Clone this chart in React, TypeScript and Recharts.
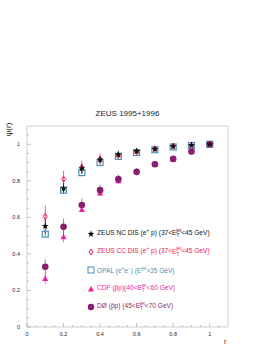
import React from 'react';
import {
  ScatterChart,
  Scatter,
  XAxis,
  YAxis,
  ErrorBar,
  ReferenceArea,
} from 'recharts';

const rValues = [0.1, 0.2, 0.3, 0.4, 0.5, 0.6, 0.7, 0.8, 0.9, 1.0];

const ncPsi = [0.552, 0.758, 0.867, 0.916, 0.944, 0.962, 0.974, 0.989, 0.995, 1.0];
const ncErr = [0.04, 0.03, 0.025, 0.02, 0.015, 0.012, 0.01, 0.008, 0.005, 0.002];
const ccPsi = [0.605, 0.809, 0.875, 0.918, 0.94, 0.96, 0.975, 0.99, 0.992, 1.0];
const ccErr = [0.06, 0.045, 0.035, 0.03, 0.025, 0.018, 0.012, 0.01, 0.008, 0.002];
const opalPsi = [0.508, 0.749, 0.845, 0.9, 0.934, 0.955, 0.97, 0.985, 0.993, 1.0];
const opalErr = [0.012, 0.01, 0.008, 0.007, 0.006, 0.005, 0.004, 0.003, 0.002, 0.001];
const cdfPsi = [0.266, 0.494, 0.643, 0.734, 0.8, 0.85, 0.89, 0.92, 0.96, 1.0];
const cdfErr = [0.03, 0.03, 0.015, 0.015, 0.012, 0.01, 0.008, 0.006, 0.005, 0.002];
const d0Psi = [0.33, 0.548, 0.668, 0.749, 0.809, 0.849, 0.891, 0.92, 0.96, 1.0];
const d0Err = [0.04, 0.045, 0.035, 0.03, 0.025, 0.02, 0.015, 0.012, 0.01, 0.002];

const majorTicks = [0, 0.2, 0.4, 0.6, 0.8, 1];
const minorTicks = [0.05, 0.1, 0.15, 0.25, 0.3, 0.35, 0.45, 0.5, 0.55, 0.65, 0.7, 0.75, 0.85, 0.9, 0.95, 1.05];
const allTicks = [...majorTicks, ...minorTicks].sort((a, b) => a - b);

const toPoints = (psi: number[], err: number[]) =>
  rValues.map((r, i) => ({ r, psi: psi[i], err: err[i] }));

const C_NC = '#111111';
const C_CC = '#e8194b';
const C_OPAL = '#4f8fb5';
const C_CDF = '#f21ca0';
const C_D0 = '#8a1f6e';
const FONT = '"Liberation Sans", Arial, sans-serif';

function starPath(cx: number, cy: number, R: number) {
  const pts: string[] = [];
  for (let k = 0; k < 10; k++) {
    const rad = k % 2 === 0 ? R : R * 0.42;
    const a = -Math.PI / 2 + (k * Math.PI) / 5;
    pts.push(`${cx + rad * Math.cos(a)},${cy + rad * Math.sin(a)}`);
  }
  return `M${pts.join('L')}Z`;
}

const Star = ({ cx, cy }: any) => <path d={starPath(cx, cy, 3.6)} fill={C_NC} />;
const Diamond = ({ cx, cy }: any) => (
  <path d={`M${cx},${cy - 3}L${cx + 2},${cy}L${cx},${cy + 3}L${cx - 2},${cy}Z`} fill="none" stroke={C_CC} strokeWidth={1} />
);
const Square = ({ cx, cy }: any) => (
  <rect x={cx - 3} y={cy - 3} width={6} height={6} fill="none" stroke={C_OPAL} strokeWidth={1.2} />
);
const Triangle = ({ cx, cy }: any) => (
  <path d={`M${cx},${cy - 3}L${cx + 3},${cy + 2.5}L${cx - 3},${cy + 2.5}Z`} fill={C_CDF} />
);
const Dot = ({ cx, cy }: any) => <circle cx={cx} cy={cy} r={3.3} fill={C_D0} />;

const XTick = ({ x, y, payload }: any) => {
  const major = majorTicks.includes(payload.value);
  return (
    <g>
      <line x1={x} x2={x} y1={y} y2={y - (major ? 4 : 2)} stroke="#999" strokeWidth={0.6} />
      {major && (
        <text x={x} y={y + 9} textAnchor="middle" fontSize={5.5} fill="#222" fontFamily={FONT}>
          {payload.value}
        </text>
      )}
    </g>
  );
};

const YTick = ({ x, y, payload }: any) => {
  const major = majorTicks.includes(payload.value);
  return (
    <g>
      <line x1={x} x2={x + (major ? 4 : 2)} y1={y} y2={y} stroke="#999" strokeWidth={0.6} />
      {major && (
        <text x={x - 7} y={y + 2} textAnchor="end" fontSize={5.5} fill="#222" fontFamily={FONT}>
          {payload.value}
        </text>
      )}
    </g>
  );
};

const Et = () => (
  <span>
    E<sub style={{ fontSize: '0.7em' }}>T</sub>
    <sup style={{ fontSize: '0.7em', marginLeft: -3 }}>jet</sup>
  </span>
);

const legendItems = [
  { color: C_NC, marker: <path d={starPath(4, 4, 3.6)} fill={C_NC} />, text: <>ZEUS NC DIS (e<sup style={{ fontSize: '0.7em' }}>+</sup> p) (37&lt;<Et />&lt;45 GeV)</> },
  { color: C_CC, marker: <path d="M4,1L6,4L4,7L2,4Z" fill="none" stroke={C_CC} />, text: <>ZEUS CC DIS (e<sup style={{ fontSize: '0.7em' }}>+</sup> p) (37&lt;<Et />&lt;45 GeV)</> },
  { color: C_OPAL, marker: <rect x={1} y={1} width={6} height={6} fill="none" stroke={C_OPAL} />, text: <>OPAL (e<sup style={{ fontSize: '0.7em' }}>+</sup>e<sup style={{ fontSize: '0.7em' }}>−</sup>) (E<sup style={{ fontSize: '0.7em' }}>jet</sup>&gt;35 GeV)</> },
  { color: C_CDF, marker: <path d="M4,1L7,6.5L1,6.5Z" fill={C_CDF} />, text: <>CDF (p̄p)(40&lt;<Et />&lt;60 GeV)</> },
  { color: C_D0, marker: <circle cx={4} cy={4} r={3.2} fill={C_D0} />, text: <>DØ (p̄p) (45&lt;<Et />&lt;70 GeV)</> },
];

export default function App() {
  return (
    <div style={{ position: 'absolute', left: 0, top: 0, width: 273, height: 353, background: '#fff', fontFamily: FONT }}>
      <ScatterChart width={273} height={353} margin={{ top: 126, right: 45, bottom: 10, left: 7 }}>
        <XAxis
          type="number"
          dataKey="r"
          domain={[0, 1.1]}
          ticks={allTicks}
          interval={0}
          tick={<XTick />}
          tickSize={0}
          tickMargin={0}
          tickLine={false}
          axisLine={false}
          height={16}
          allowDataOverflow
        />
        <YAxis
          type="number"
          dataKey="psi"
          domain={[0, 1.1]}
          ticks={allTicks}
          interval={0}
          tick={<YTick />}
          tickSize={0}
          tickMargin={0}
          tickLine={false}
          axisLine={false}
          width={20}
          allowDataOverflow
        />
        <ReferenceArea x1={0} x2={1.1} y1={0} y2={1.1} fill="none" stroke="#cfcfcf" strokeWidth={1} />
        <Scatter data={toPoints(opalPsi, opalErr)} shape={<Square />} isAnimationActive={false}>
          <ErrorBar dataKey="err" direction="y" width={0} stroke={C_OPAL} strokeWidth={1} />
        </Scatter>
        <Scatter data={toPoints(cdfPsi, cdfErr)} shape={<Triangle />} isAnimationActive={false}>
          <ErrorBar dataKey="err" direction="y" width={0} stroke={C_CDF} strokeWidth={1} strokeOpacity={0.7} />
        </Scatter>
        <Scatter data={toPoints(d0Psi, d0Err)} shape={<Dot />} isAnimationActive={false}>
          <ErrorBar dataKey="err" direction="y" width={0} stroke={C_D0} strokeWidth={1} strokeOpacity={0.6} />
        </Scatter>
        <Scatter data={toPoints(ccPsi, ccErr)} shape={<Diamond />} isAnimationActive={false}>
          <ErrorBar dataKey="err" direction="y" width={0} stroke={C_CC} strokeWidth={1} strokeOpacity={0.7} />
        </Scatter>
        <Scatter data={toPoints(ncPsi, ncErr)} shape={<Star />} isAnimationActive={false}>
          <ErrorBar dataKey="err" direction="y" width={0} stroke={C_NC} strokeWidth={1} strokeOpacity={0.7} />
        </Scatter>
      </ScatterChart>

      <div style={{ position: 'absolute', left: 0, width: 255, top: 109, textAlign: 'center', fontSize: 8, color: '#222' }}>
        ZEUS 1995+1996
      </div>
      <div style={{ position: 'absolute', left: 0, top: 125, width: 16, transform: 'rotate(-90deg)', transformOrigin: 'center', fontSize: 8, color: '#222', textAlign: 'center' }}>
        ψ(r)
      </div>
      <div style={{ position: 'absolute', left: 224, top: 338, fontSize: 7, color: '#222' }}>r</div>

      <div style={{ position: 'absolute', left: 87, top: 230, fontSize: 6.6, lineHeight: '8px' }}>
        {legendItems.map((it, i) => (
          <div key={i} style={{ display: 'flex', alignItems: 'center', height: 8, marginBottom: 10.2, color: it.color, whiteSpace: 'nowrap' }}>
            <svg width={8} height={8} style={{ marginRight: 2, flex: 'none' }}>{it.marker}</svg>
            <span>{it.text}</span>
          </div>
        ))}
      </div>
    </div>
  );
}
